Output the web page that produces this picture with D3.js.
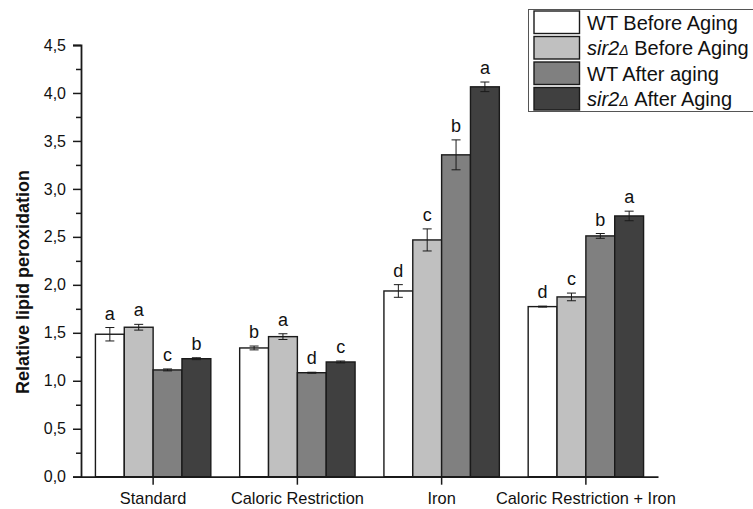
<!DOCTYPE html>
<html>
<head>
<meta charset="utf-8">
<script src="https://cdn.jsdelivr.net/npm/d3@7/dist/d3.min.js"></script>
<style>
  html, body { margin: 0; padding: 0; background: #fff; }
  svg { display: block; font-family: "Liberation Sans", Arial, sans-serif; }
</style>
</head>
<body>
<svg id="chart" width="753" height="509"></svg>
<script>
// Treatment groups along the x axis
const categories = ["Standard", "Caloric Restriction", "Iron", "Caloric Restriction + Iron"];

// Series (strain / aging state)
const seriesKeys = ["wtBefore", "sirBefore", "wtAfter", "sirAfter"];
const seriesColors = ["#ffffff", "#c0c0c0", "#808080", "#404040"];

// Mean relative lipid peroxidation per group
const wtBefore  = [1.485, 1.342, 1.936, 1.773];
const sirBefore = [1.558, 1.460, 2.468, 1.874];
const wtAfter   = [1.113, 1.084, 3.355, 2.510];
const sirAfter  = [1.230, 1.196, 4.064, 2.718];

// Error (±) per bar
const wtBeforeErr  = [0.070, 0.020, 0.066, 0.005];
const sirBeforeErr = [0.030, 0.030, 0.115, 0.040];
const wtAfterErr   = [0.010, 0.005, 0.156, 0.025];
const sirAfterErr  = [0.010, 0.010, 0.050, 0.050];

// Significance letters
const wtBeforeSig  = ["a", "b", "d", "d"];
const sirBeforeSig = ["a", "a", "c", "c"];
const wtAfterSig   = ["c", "d", "b", "b"];
const sirAfterSig  = ["b", "c", "a", "a"];

// Y axis ticks
const yTickValues = [0, 0.5, 1, 1.5, 2, 2.5, 3, 3.5, 4, 4.5];
const yMinorValues = [0.25, 0.75, 1.25, 1.75, 2.25, 2.75, 3.25, 3.75, 4.25];

const values = [wtBefore, sirBefore, wtAfter, sirAfter];
const errors = [wtBeforeErr, sirBeforeErr, wtAfterErr, sirAfterErr];
const sigs = [wtBeforeSig, sirBeforeSig, wtAfterSig, sirAfterSig];

const rows = [];
categories.forEach((c, gi) => {
  seriesKeys.forEach((k, si) => {
    rows.push({ cat: c, key: k, color: seriesColors[si],
      value: values[si][gi], err: errors[si][gi], sig: sigs[si][gi] });
  });
});

const svg = d3.select("#chart");
const FONT = "'Liberation Sans', Arial, sans-serif";

const x0 = d3.scaleBand().domain(categories).range([81, 658])
  .paddingInner(0.2).paddingOuter(0.1);
const x1 = d3.scaleBand().domain(seriesKeys).range([0, x0.bandwidth()]).padding(0);
const y = d3.scaleLinear().domain([0, 4.5]).range([476.7, 45]);

// Bars
const bars = svg.append("g");
bars.selectAll("rect").data(rows).join("rect")
  .attr("x", d => x0(d.cat) + x1(d.key))
  .attr("y", d => y(d.value))
  .attr("width", x1.bandwidth())
  .attr("height", d => y(0) - y(d.value))
  .attr("fill", d => d.color)
  .attr("stroke", "#1a1a1a")
  .attr("stroke-width", 1.4);

// Error bars
const eg = svg.append("g").attr("stroke", "#1a1a1a").attr("stroke-width", 1);
rows.forEach(d => {
  const cx = x0(d.cat) + x1(d.key) + x1.bandwidth() / 2;
  const top = y(d.value + d.err), bot = y(d.value - d.err);
  eg.append("line").attr("x1", cx).attr("x2", cx).attr("y1", top).attr("y2", bot);
  eg.append("line").attr("x1", cx - 4.5).attr("x2", cx + 4.5).attr("y1", top).attr("y2", top);
  eg.append("line").attr("x1", cx - 4.5).attr("x2", cx + 4.5).attr("y1", bot).attr("y2", bot);
});

// Significance letters
svg.append("g").selectAll("text").data(rows).join("text")
  .attr("x", d => x0(d.cat) + x1(d.key) + x1.bandwidth() / 2)
  .attr("y", d => y(d.value + d.err) - 8)
  .attr("text-anchor", "middle")
  .attr("font-family", FONT)
  .attr("font-size", 18)
  .attr("fill", "#111")
  .text(d => d.sig);

// Y axis
const yAxis = d3.axisLeft(y).tickValues(yTickValues).tickSize(8).tickPadding(7)
  .tickFormat(d => d3.format(".1f")(d).replace(".", ","));
const gy = svg.append("g").attr("transform", "translate(81,0)").call(yAxis);
gy.select(".domain").attr("stroke", "#1a1a1a").attr("stroke-width", 1.8);
gy.selectAll(".tick line").attr("stroke", "#1a1a1a").attr("stroke-width", 1.5);
gy.selectAll(".tick text").attr("font-size", 16).attr("fill", "#111")
  .attr("font-family", FONT);
const gyMinor = svg.append("g").attr("transform", "translate(81,0)")
  .call(d3.axisLeft(y).tickValues(yMinorValues).tickSize(5).tickFormat(""));
gyMinor.select(".domain").remove();
gyMinor.selectAll(".tick line").attr("stroke", "#1a1a1a").attr("stroke-width", 1.5);

// X axis
const xAxis = d3.axisBottom(x0).tickSize(8).tickPadding(8).tickSizeOuter(0);
const gx = svg.append("g").attr("transform", `translate(0,${y(0)})`).call(xAxis);
gx.select(".domain").attr("stroke", "#1a1a1a").attr("stroke-width", 1.8);
gx.selectAll(".tick line").attr("stroke", "#1a1a1a").attr("stroke-width", 1.5);
gx.selectAll(".tick text").attr("font-size", 16.4).attr("fill", "#111")
  .attr("font-family", FONT);

// Y axis title
svg.append("text")
  .attr("transform", "translate(29,282) rotate(-90)")
  .attr("text-anchor", "middle")
  .attr("font-family", FONT)
  .attr("font-size", 18)
  .attr("font-weight", "bold")
  .attr("fill", "#111")
  .text("Relative lipid peroxidation");

// Legend
const legendItems = [
  { color: seriesColors[0], italic: null, rest: "WT Before Aging" },
  { color: seriesColors[1], italic: "sir2", rest: " Before Aging" },
  { color: seriesColors[2], italic: null, rest: "WT After aging" },
  { color: seriesColors[3], italic: "sir2", rest: " After Aging" }
];
const lg = svg.append("g");
lg.append("rect").attr("x", 528.5).attr("y", 9.5).attr("width", 240).attr("height", 102)
  .attr("fill", "#fff").attr("stroke", "#555").attr("stroke-width", 1);
legendItems.forEach((it, i) => {
  const ty = 11 + i * 25.5;
  lg.append("rect").attr("x", 534).attr("y", ty).attr("width", 45.5).attr("height", 22.5)
    .attr("fill", it.color).attr("stroke", "#1a1a1a").attr("stroke-width", 1.4);
  const t = lg.append("text").attr("x", 587).attr("y", ty + 18.5)
    .attr("font-family", FONT)
    .attr("font-size", 20).attr("fill", "#111");
  if (it.italic) {
    t.append("tspan").attr("font-style", "italic").text(it.italic);
    t.append("tspan").attr("font-style", "italic").attr("font-size", 14).text("\u0394");
  }
  t.append("tspan").text(it.rest);
});
</script>
</body>
</html>
